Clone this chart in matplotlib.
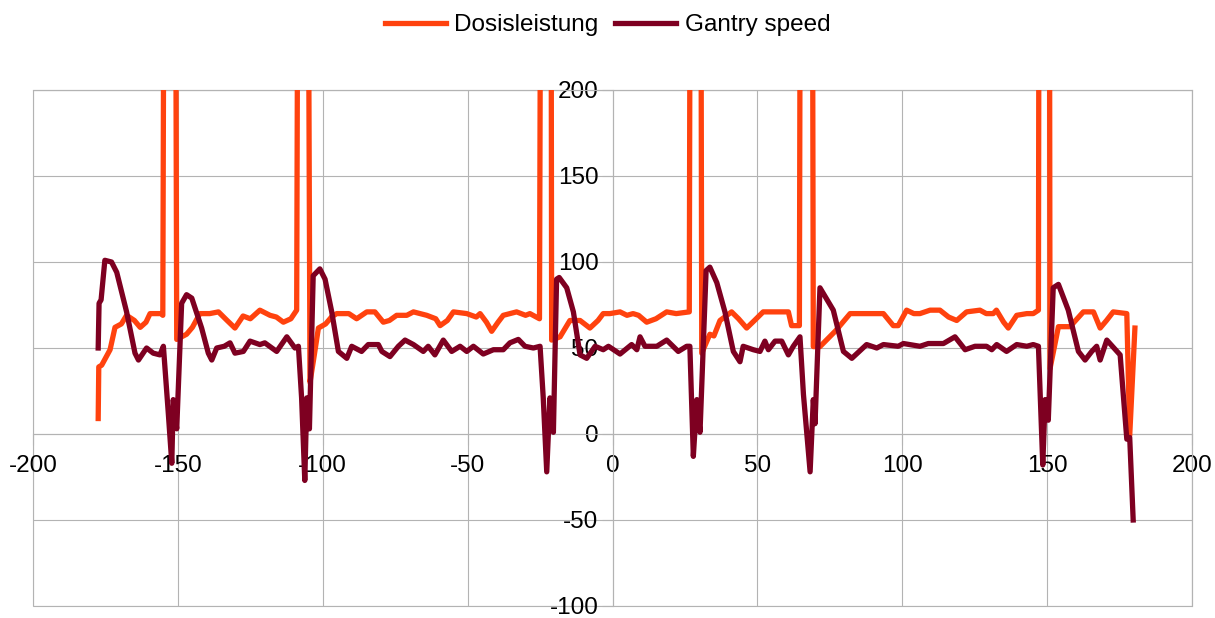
import matplotlib
matplotlib.use("Agg")
import matplotlib.pyplot as plt

# Dosisleistung (orange) - spikes go off the top of the chart
dose_x = [-177.5, -177.3, -176.3, -175, -173.4, -171.7, -169.5, -167.7, -165, -163,
          -161, -159.6, -157.5, -155.6, -155.2, -154.8, -150.8, -150.4, -147, -145,
          -142.4, -139, -136, -133, -130.3, -127.5, -125, -121.7, -118.2, -116,
          -113.6, -111, -109, -108.6, -105, -104.4, -103, -101.5, -99, -97,
          -95.2, -91, -88.3, -84.8, -82, -79.1, -77, -74.5, -71, -68.7,
          -64.1, -61, -59.5, -57, -54.9, -50.3, -47, -45.7, -43.5, -41.7,
          -39.5, -37.7, -33.1, -30, -28.5, -25.2, -24.8, -21.2, -21, -18.1,
          -14.7, -11.2, -7.8, -5, -3.2, -0.9, 2.6, 5, 7.1, 9,
          11.8, 15, 18.7, 22, 26.5, 26.8, 30.5, 30.8, 33.6, 35,
          37.1, 41.1, 43.5, 46.3, 49, 52, 56, 60.7, 61.8, 64.5,
          64.8, 69, 69.3, 71.6, 77, 82, 88, 93.5, 96.9, 98.6,
          101.5, 104, 106.1, 109.6, 113, 116, 118.8, 122.2, 126.8, 129,
          131.4, 132.5, 135, 136.6, 139.5, 143, 145.2, 147, 147.2, 150.8,
          151, 153.9, 157.9, 162.5, 166, 168.3, 170.5, 172.8, 177.5, 178.5,
          180.3]
dose_y = [9, 39, 40, 44, 49, 62, 64, 69, 66, 62,
          65, 70, 70, 70, 69, 300, 300, 55, 58, 62,
          70, 70, 71, 66, 61.6, 68.6, 67, 72, 69, 68,
          65, 67, 72, 300, 300, 30, 45, 61.6, 64, 68,
          70, 70, 67, 71, 71, 65, 66, 69, 69, 71,
          69, 67, 63, 66, 71, 70, 68, 70, 65, 59.7,
          65, 69, 71, 69, 70, 67, 300, 300, 54.6, 56.5,
          66, 66, 61.6, 66, 70, 70, 71, 69, 70, 69,
          65, 67, 71, 70, 71, 300, 300, 47, 58, 57,
          66, 71, 67, 61.6, 66, 71, 71, 71, 63, 63,
          300, 300, 50.8, 50.8, 60, 70, 70, 70, 63, 63,
          72, 70, 70, 72, 72, 68, 66, 71, 72, 70,
          70, 72, 65, 61.6, 69, 70, 70, 72, 300, 300,
          38, 62.4, 62.4, 71, 71, 61.6, 66, 71, 70, -1,
          61.6]

# Gantry speed (dark red)
gantry_x = [-177.5, -177.2, -176.5, -175.2, -172.9, -171.1, -167.7, -164.8, -163.6, -160.8,
            -158.5, -156.2, -155, -153.3, -152.1, -151.6, -150.4, -148.7, -147, -145.2,
            -141.8, -139.5, -138.3, -136.6, -134, -132, -130.3, -127.4, -125.1, -121.7,
            -120, -115.9, -112.4, -109.6, -108.4, -107.3, -106.2, -105.5, -104.6, -103.3,
            -101, -99.2, -96.9, -94.6, -91.7, -90, -86.6, -84.3, -80.8, -79.6,
            -76.8, -73.9, -71.6, -68.7, -65.3, -63.6, -61.3, -58.4, -55.5, -52.6,
            -50.3, -48, -44.6, -41.1, -37.7, -35.4, -32.5, -30.2, -27.3, -25,
            -23.9, -22.7, -21.6, -20.4, -19.3, -18.4, -15.8, -13.5, -11.2, -8.9,
            -6, -3.2, -1.4, 2.6, 6.6, 8.4, 9.5, 11.2, 15.3, 18.7,
            22.7, 25.6, 26.7, 27.9, 29.1, 30.2, 32.3, 33.6, 36, 38.8,
            41.7, 44, 45.1, 48.6, 50.9, 52.6, 53.8, 56.1, 58.4, 60.7,
            62.4, 64.7, 65.9, 68.2, 69.3, 69.9, 71.6, 76.2, 79.7, 82.6,
            87.7, 91.2, 93.5, 98.6, 100.4, 106.1, 109, 114.2, 118.2, 121.7,
            125.1, 129.1, 130.9, 132.6, 136, 139.5, 143, 145.2, 147, 148.5,
            149.3, 150.4, 152.1, 153.9, 157.3, 160.8, 163.1, 165.4, 167.1, 168.3,
            170.6, 175.2, 177.5, 178.5, 179.7]
gantry_y = [50, 76, 78, 101, 100, 94, 71, 47, 43, 50,
            47, 46, 51, 12, -17, 20, 3, 76, 81, 79,
            61.6, 47, 43, 50, 51, 53, 47, 48, 54, 52,
            53, 48, 56.5, 50, 51, 21, -27, 21, 3, 92,
            96, 90, 71, 48, 44, 51, 48, 52, 52, 48,
            45, 51, 54.6, 52, 48, 51, 46, 54.6, 48, 51,
            48, 51, 46.5, 49, 49, 53, 55, 51, 50, 51,
            21, -22, 21, 1, 90, 91, 85, 71, 46, 44,
            51, 49, 51, 46.5, 52, 49, 56.5, 51, 51, 54.6,
            48, 51, 51, -13, 20, 1, 95, 97, 88, 71,
            48, 42, 51, 49, 48, 54, 49, 54, 54, 46,
            51, 56.5, 23, -22, 20, 6, 85, 72, 48, 44,
            52, 50, 52, 51, 52.6, 51, 52.6, 52.6, 56.5, 49,
            51, 51, 49, 52, 48, 52, 51, 52, 51, -18,
            20, 8, 85, 87, 72, 48, 43, 48, 51, 43,
            54.6, 46, -3, -2, -50]

x_ticks = [-200, -150, -100, -50, 0, 50, 100, 150, 200]
y_ticks = [-100, -50, 0, 50, 100, 150, 200]

plt.rcParams['font.family'] = ['Liberation Sans', 'DejaVu Sans']
grey = '#b3b3b3'

fig = plt.figure(figsize=(12.15, 6.18), dpi=100)
ax = fig.add_axes([33 / 1215, 12 / 618, 1159 / 1215, 516 / 618])

ax.plot(dose_x, dose_y, color='#ff420e', linewidth=3.8, label='Dosisleistung',
        solid_joinstyle='round', zorder=3)
ax.plot(gantry_x, gantry_y, color='#7e0021', linewidth=3.8, label='Gantry speed',
        solid_joinstyle='round', zorder=4)

ax.set_xlim(-200, 200)
ax.set_ylim(-100, 200)
ax.set_xticks(x_ticks)
ax.set_yticks(y_ticks)
ax.set_xticklabels([str(v) for v in x_ticks])
ax.set_yticklabels([str(v) for v in y_ticks])

# axes cross at the origin
ax.spines['left'].set_position(('data', 0))
ax.spines['bottom'].set_position(('data', 0))
for s in ax.spines.values():
    s.set_color(grey)
    s.set_linewidth(0.8)
ax.patch.set_edgecolor(grey)
ax.patch.set_linewidth(0.8)

ax.grid(True, color=grey, linewidth=0.8)
ax.set_axisbelow(True)
ax.tick_params(axis='both', colors=grey, length=8, width=0.8, labelsize=17.5,
               labelcolor='black')
ax.tick_params(axis='x', pad=7)
ax.tick_params(axis='y', pad=2)

fig.legend(loc='upper center', bbox_to_anchor=(0.5, 1.012), ncol=2, frameon=False,
           fontsize=17.5, handlelength=2.5, handletextpad=0.35, columnspacing=0.7)

fig.savefig('out.png', dpi=100)
